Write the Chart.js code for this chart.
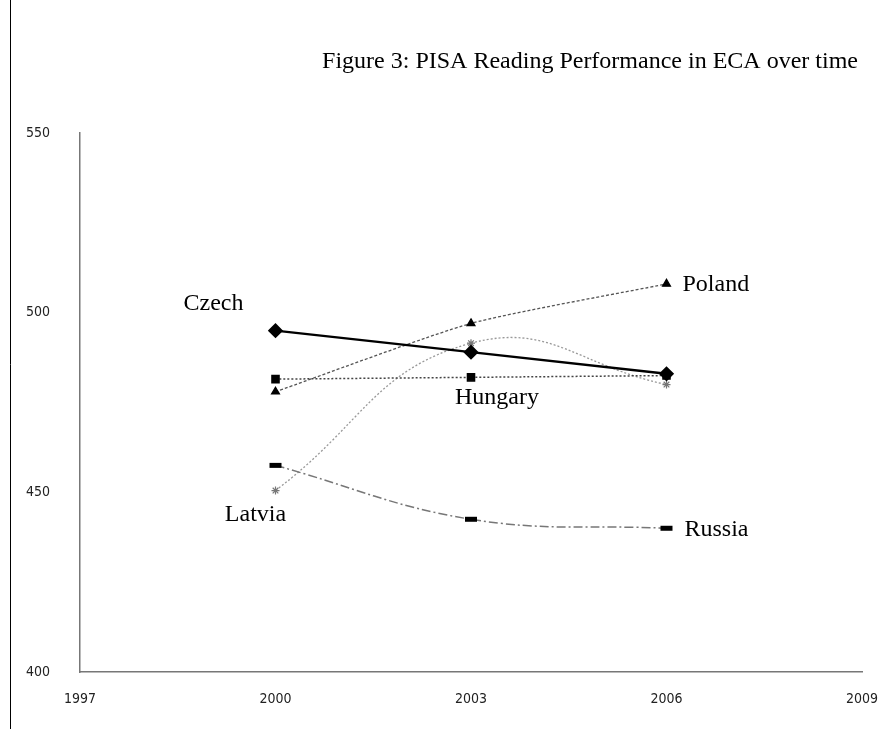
<!DOCTYPE html>
<html>
<head>
<meta charset="utf-8">
<script src="https://cdn.jsdelivr.net/npm/chart.js@4"></script>
<style>
  html, body { margin: 0; padding: 0; background: #fff; }
  #wrap { width: 889px; height: 729px; position: relative; }
</style>
</head>
<body>
<div id="wrap"><canvas id="pisaChart" width="889" height="729"></canvas></div>
<script>
// PISA reading scores
const years = [2000, 2003, 2006];
const czech = [495, 489, 483];
const poland = [478, 497, 508];
const hungary = [481.5, 482, 482.5];
const latvia = [450.5, 491.5, 480];
const russia = [457.5, 442.5, 440];

const xTicks = [1997, 2000, 2003, 2006, 2009];
const yTicks = [400, 450, 500, 550];

const toPoints = vals => years.map((y, i) => ({ x: y, y: vals[i] }));

// text labels placed next to a data point (pixel offsets from that point)
const seriesLabels = [
    { text: "Czech", data: czech, idx: 0, dx: -62, dy: -27, align: "center" },
    { text: "Poland", data: poland, idx: 2, dx: 16, dy: 1, align: "left" },
    { text: "Hungary", data: hungary, idx: 1, dx: 26, dy: 20, align: "center" },
    { text: "Latvia", data: latvia, idx: 0, dx: -20, dy: 24, align: "center" },
    { text: "Russia", data: russia, idx: 2, dx: 18, dy: 1, align: "left" }
];

const decorations = {
    id: "decorations",
    beforeDraw(chart) {
        const ctx = chart.ctx;
        ctx.save();
        ctx.strokeStyle = "#000";
        ctx.lineWidth = 1;
        ctx.beginPath();
        ctx.moveTo(10.5, 0);
        ctx.lineTo(10.5, 729);
        ctx.stroke();
        ctx.fillStyle = "#000";
        ctx.font = "24px 'Liberation Serif', serif";
        ctx.textAlign = "center";
        ctx.textBaseline = "middle";
        ctx.fillText("Figure 3: PISA Reading Performance in ECA over time", 590, 62);
        ctx.restore();
    },
    afterDatasetsDraw(chart) {
        const ctx = chart.ctx;
        const xs = chart.scales.x, ys = chart.scales.y;
        ctx.save();
        ctx.fillStyle = "#000";
        ctx.font = "24px 'Liberation Serif', serif";
        ctx.textBaseline = "middle";
        seriesLabels.forEach(l => {
            const px = xs.getPixelForValue(years[l.idx]);
            const py = ys.getPixelForValue(l.data[l.idx]);
            ctx.textAlign = l.align;
            ctx.fillText(l.text, px + l.dx, py + l.dy);
        });
        ctx.restore();
    }
};

const config = {
    type: "line",
    data: {
        datasets: [{
            label: "Czech",
            data: toPoints(czech),
            borderColor: "#000",
            borderWidth: 2.3,
            tension: 0,
            pointStyle: "rectRot",
            pointRadius: 6,
            pointBackgroundColor: "#000",
            pointBorderColor: "#000",
            order: 0
        }, {
            label: "Poland",
            data: toPoints(poland),
            borderColor: "#555",
            borderWidth: 1.3,
            borderDash: [3, 2],
            tension: 0.2,
            pointStyle: "triangle",
            pointRadius: 4.5,
            pointBackgroundColor: "#000",
            pointBorderColor: "#000",
            order: 1
        }, {
            label: "Hungary",
            data: toPoints(hungary),
            borderColor: "#444",
            borderWidth: 1.5,
            borderDash: [2, 2],
            tension: 0.3,
            pointStyle: "rect",
            pointRadius: 5,
            pointBackgroundColor: "#000",
            pointBorderColor: "#000",
            order: 1
        }, {
            label: "Latvia",
            data: toPoints(latvia),
            borderColor: "#999",
            borderWidth: 1.3,
            borderDash: [2, 2],
            tension: 0.45,
            pointStyle: "star",
            pointRadius: 4,
            pointBorderWidth: 1.2,
            pointBackgroundColor: "#777",
            pointBorderColor: "#777",
            order: 2
        }, {
            label: "Russia",
            data: toPoints(russia),
            borderColor: "#777",
            borderWidth: 1.5,
            borderDash: [9, 3, 2, 3],
            tension: 0.4,
            pointStyle: "line",
            pointRadius: 6,
            pointBorderWidth: 5,
            pointBackgroundColor: "#000",
            pointBorderColor: "#000",
            order: 1
        }]
    },
    options: {
        responsive: false,
        animation: false,
        layout: { padding: { top: 133, right: 27, left: 0, bottom: 0 } },
        plugins: {
            legend: { display: false },
            title: { display: false },
            tooltip: { enabled: false }
        },
        scales: {
            x: {
                type: "linear",
                min: 1997,
                max: 2009,
                afterBuildTicks: s => { s.ticks = xTicks.map(v => ({ value: v })); },
                afterFit: s => { s.height = 57; s.paddingLeft = 0; s.paddingRight = 0; },
                grid: { display: false, drawTicks: false },
                border: { color: "#777", width: 1.5 },
                ticks: {
                    padding: 19,
                    color: "#222",
                    font: { family: "'DejaVu Sans Condensed', 'DejaVu Sans', sans-serif", size: 14 },
                    callback: v => String(v)
                }
            },
            y: {
                min: 400,
                max: 550,
                afterBuildTicks: s => { s.ticks = yTicks.map(v => ({ value: v })); },
                afterFit: s => { s.width = 80; s.paddingTop = 0; s.paddingBottom = 0; },
                grid: { display: false, drawTicks: false },
                border: { color: "#777", width: 1.5 },
                ticks: {
                    padding: 30,
                    color: "#222",
                    font: { family: "'DejaVu Sans Condensed', 'DejaVu Sans', sans-serif", size: 14 }
                }
            }
        }
    },
    plugins: [decorations]
};

new Chart(document.getElementById("pisaChart").getContext("2d"), config);
</script>
</body>
</html>
